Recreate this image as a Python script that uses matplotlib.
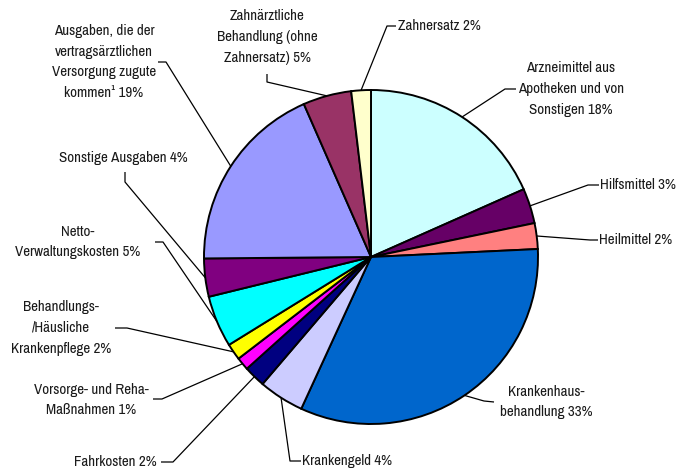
import numpy as np
import matplotlib
matplotlib.use("Agg")
import matplotlib.pyplot as plt

plt.rcParams['font.family'] = ['Archivo Narrow', 'Roboto Condensed', 'Liberation Sans', 'DejaVu Sans']

# ---- data ----
names = [
    "Arzneimittel aus\nApotheken und von\nSonstigen",
    "Hilfsmittel",
    "Heilmittel",
    "Krankenhaus-\nbehandlung",
    "Krankengeld",
    "Fahrkosten",
    "Vorsorge- und Reha-\nMaßnahmen",
    "Behandlungs-\n/Häusliche\nKrankenpflege",
    "Netto-\nVerwaltungskosten",
    "Sonstige Ausgaben",
    "Ausgaben, die der\nvertragsärztlichen\nVersorgung zugute\nkommen¹",
    "Zahnärztliche\nBehandlung (ohne\nZahnersatz)",
    "Zahnersatz",
]
shares = [18.4, 3.4, 2.5, 32.7, 4.4, 2.1, 1.25, 1.6, 5.0, 3.7, 18.6, 4.7, 1.9]
pct_labels = ["18%", "3%", "2%", "33%", "4%", "2%", "1%", "2%", "5%", "4%", "19%", "5%", "2%"]
colors = ["#CCFFFF", "#660066", "#FF8080", "#0066CC", "#CCCCFF", "#000080", "#FF00FF",
          "#FFFF00", "#00FFFF", "#800080", "#9999FF", "#993366", "#FFFFCC"]

# ---- layout (pixel coordinates, origin top-left) ----
W, H = 682, 470
CX, CY, R = 371, 257, 167
# text anchor (x, y, ha), leader start, leader elbow
layout = [
    ((571, 89, "center"), (516, 89), (505, 89)),
    ((600, 185, "left"), (599, 185), (588, 185)),
    ((599, 240, "left"), (598, 240), (590, 240)),
    ((546, 402, "center"), (494, 402), (484, 401)),
    ((302, 461, "left"), (301, 461), (290, 461)),
    ((157, 462, "right"), (161, 462), (173, 462)),
    ((91, 400, "center"), (153, 399), (162, 399)),
    ((61, 328, "center"), (115, 328), (127, 328)),
    ((78, 242, "center"), (155, 242), (163, 242)),
    ((123, 158, "center"), (125, 172), (125, 182)),
    ((104, 62, "center"), (158, 62), (166, 62)),
    ((267, 37, "center"), (267, 74), (267, 82)),
    ((398, 26, "left"), (396, 26), (387, 26)),
]

def P(x, y):
    return x, H - y

fig = plt.figure(figsize=(W / 100, H / 100), dpi=100)
ax = fig.add_axes([0, 0, 1, 1])
wedges, _ = ax.pie(shares, colors=colors, startangle=90, counterclock=False,
                   center=P(CX, CY), radius=R,
                   wedgeprops=dict(edgecolor="black", linewidth=1.4))
ax.set_xlim(0, W)
ax.set_ylim(0, H)
ax.set_aspect("equal")
ax.axis("off")

for w, name, pct, (txt, start, elbow) in zip(wedges, names, pct_labels, layout):
    mid = np.deg2rad((w.theta1 + w.theta2) / 2)
    ex = w.center[0] + w.r * np.cos(mid)
    ey = w.center[1] + w.r * np.sin(mid)
    xs = [P(*start)[0], P(*elbow)[0], ex]
    ys = [P(*start)[1], P(*elbow)[1], ey]
    ax.plot(xs, ys, color="black", lw=0.9, solid_capstyle="butt")
    tx, ty = P(txt[0], txt[1])
    ax.text(tx, ty, f"{name} {pct}", ha=txt[2], va="center", fontsize=10.8,
            linespacing=1.6, color="#1a1a1a", multialignment="center")

fig.savefig("out.png", dpi=100)
